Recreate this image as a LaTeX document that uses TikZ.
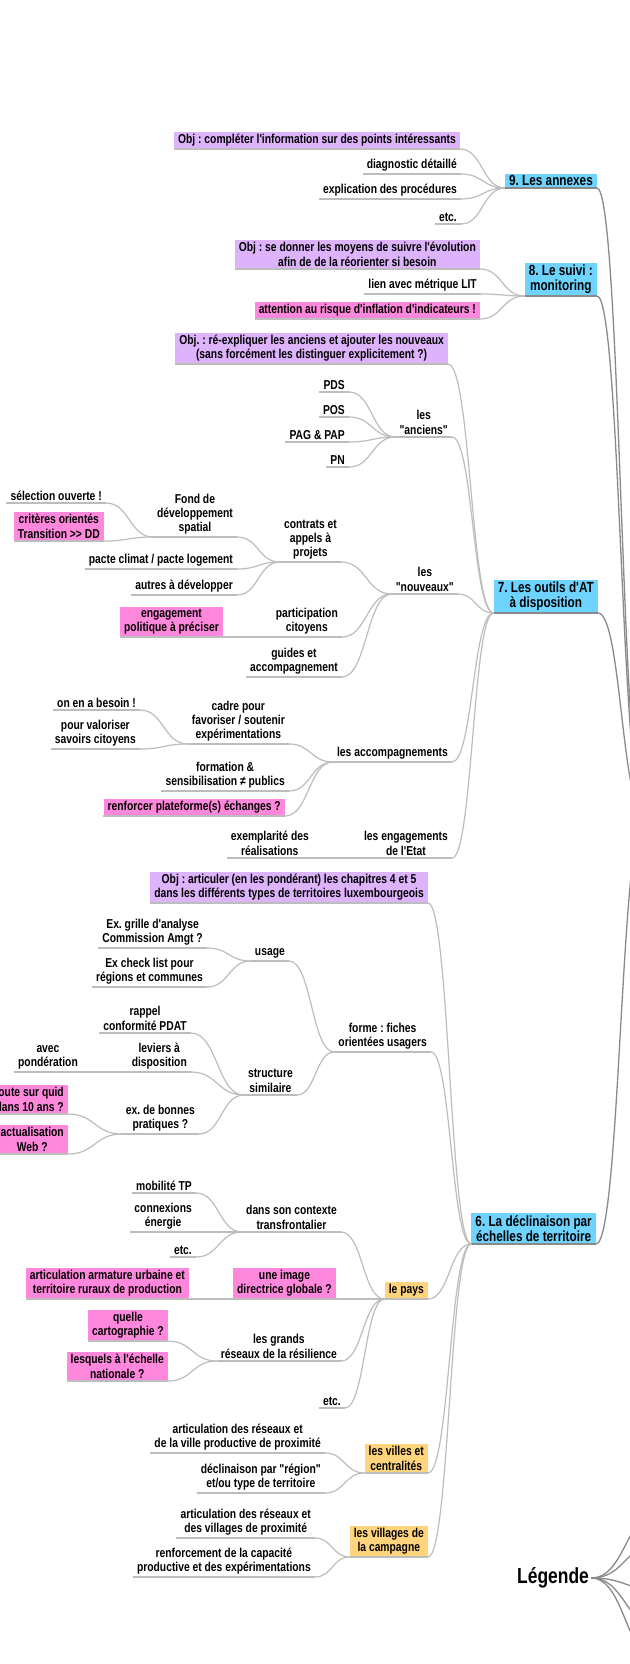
\documentclass[tikz,border=0pt]{standalone}
\usepackage{fontspec}
\newfontfamily\mmfont{Liberation Sans}[FakeStretch=0.8]
\usetikzlibrary{calc}
\frenchspacing
\definecolor{cpurple}{HTML}{DDB3FB}
\definecolor{cpink}{HTML}{FF88DC}
\definecolor{cblue}{HTML}{6FD3FF}
\definecolor{corange}{HTML}{FFD47C}
\definecolor{clink}{HTML}{BDBDBD}
\definecolor{cmain}{HTML}{8A8A8A}
\begin{document}
\begin{tikzpicture}[x=1pt,y=-1pt,
  mm/.style={anchor=south east, align=center, inner xsep=4pt, inner ysep=2.3pt,
    font=\mmfont\bfseries\fontsize{12.9}{14.4}\selectfont\frenchspacing, text=black},
  pu/.style={mm, fill=cpurple},
  pk/.style={mm, fill=cpink},
  ora/.style={mm, fill=corange},
  bl/.style={mm, fill=cblue, inner ysep=1.8pt, font=\mmfont\bfseries\fontsize{14.7}{15.8}\selectfont},
  link/.style={draw=clink, line width=1.2pt,
    to path={let \p1=(\tikztostart), \p2=(\tikztotarget), \n1={0.5*(\x2-\x1)} in
      .. controls ([xshift=\n1]\tikztostart) and ([xshift=-\n1]\tikztotarget) .. (\tikztotarget)}},
  mainlink/.style={link, draw=cmain, line width=1.3pt},
  uline/.style={draw=clink, line width=1.2pt},
  mainuline/.style={draw=cmain, line width=1.3pt}
]
\fill[white] (0,0) rectangle (629,1664);
\useasboundingbox (0,0) rectangle (629,1664);

% ---------- 9
\node[bl] (n9) at (597,188) {9. Les annexes};
\node[pu] (o9) at (460,149) {Obj : compléter l'information sur des points intéressants};
\node[mm] (d9a) at (461,174) {diagnostic détaillé};
\node[mm] (d9b) at (461,199) {explication des procédures};
\node[mm] (d9c) at (461,224) {etc.};
% ---------- 8
\node[bl] (n8) at (597,296) {8. Le suivi :\\monitoring};
\node[pu] (o8) at (480,269) {Obj : se donner les moyens de suivre l'évolution\\afin de de la réorienter si besoin};
\node[mm] (l8) at (481,294) {lien avec métrique LIT};
\node[pk] (a8) at (480,319) {attention au risque d'inflation d'indicateurs !};
% ---------- 7
\node[bl] (n7) at (598,613) {7. Les outils d'AT\\à disposition};
\node[pu] (o7) at (448,364) {Obj. : ré-expliquer les anciens et ajouter les nouveaux\\(sans forcément les distinguer explicitement ?)};
\node[mm] (anc) at (452,437) {les\\"anciens"};
\node[mm] (pds) at (349,392) {PDS};
\node[mm] (pos) at (349,417) {POS};
\node[mm] (pag) at (349,442) {PAG \& PAP};
\node[mm] (pn) at (349,467) {PN};
\node[mm] (nouv) at (458,594) {les\\"nouveaux"};
\node[mm] (contrats) at (341,562) {contrats et\\appels à\\projets};
\node[mm] (fond) at (237,537) {Fond de\\développement\\spatial};
\node[mm] (sel) at (106,503) {sélection ouverte !};
\node[pk] (crit) at (104,541) {critères orientés\\Transition >> DD};
\node[mm] (pacte) at (237,569) {pacte climat / pacte logement};
\node[mm] (autres) at (237,595) {autres à développer};
\node[mm] (part) at (342,637) {participation\\citoyens};
\node[pk] (eng) at (223,637) {engagement\\politique à préciser};
\node[mm] (guides) at (342,677) {guides et\\accompagnement};
\node[mm] (acc) at (452,762) {les accompagnements};
\node[mm] (cadre) at (289,744) {cadre pour\\favoriser / soutenir\\expérimentations};
\node[mm] (besoin) at (140,710) {on en a besoin !};
\node[mm] (valor) at (140,749) {pour valoriser\\savoirs citoyens};
\node[mm] (form) at (289,791) {formation \&\\sensibilisation ≠ publics};
\node[pk] (renf) at (285,816) {renforcer plateforme(s) échanges ?};
\node[mm] (engE) at (452,858) {les engagements\\de l'Etat};
\node[mm] (exem) at (313,858) {exemplarité des\\réalisations};
% ---------- 6
\node[bl] (n6) at (596,1244) {6. La déclinaison par\\échelles de territoire};
\node[pu] (o6) at (428,903) {Obj : articuler (en les pondérant) les chapitres 4 et 5\\dans les différents types de territoires luxembourgeois};
\node[mm] (forme) at (431,1052) {forme : fiches\\orientées usagers};
\node[mm] (usage) at (289,961) {usage};
\node[mm] (grille) at (207,948) {Ex. grille d'analyse\\Commission Amgt ?};
\node[mm] (check) at (207,987) {Ex check list pour\\régions et communes};
\node[mm] (struct) at (297,1095) {structure\\similaire};
\node[mm] (rappel) at (191,1033) {rappel\\conformité PDAT};
\node[mm] (leviers) at (191,1072) {leviers à\\disposition};
\node[mm] (avec) at (82,1072) {avec\\pondération};
\node[mm] (bonnes) at (199,1134) {ex. de bonnes\\pratiques ?};
\node[pk, align=right] (quid) at (68,1114) {oute sur quid\\dans 10 ans ?};
\node[pk] (actu) at (68,1154) {actualisation\\Web ?};
\node[ora] (pays) at (428,1299) {le pays};
\node[pk] (img) at (336,1299) {une image\\directrice globale ?};
\node[pk] (armat) at (189,1299) {articulation armature urbaine et\\territoire ruraux de production};
\node[mm] (ctx) at (341,1232) {dans son contexte\\transfrontalier};
\node[mm] (mob) at (196,1193) {mobilité TP};
\node[mm] (conn) at (196,1232) {connexions\\énergie};
\node[mm] (etcb) at (196,1257) {etc.};
\node[mm] (res) at (341,1361) {les grands\\réseaux de la résilience};
\node[pk] (carto) at (168,1341) {quelle\\cartographie ?};
\node[pk] (lesq) at (168,1381) {lesquels à l'échelle\\nationale ?};
\node[mm] (etcc) at (345,1408) {etc.};
\node[ora] (villes) at (428,1473) {les villes et\\centralités};
\node[mm] (artv) at (325,1453) {articulation des réseaux et\\de la ville productive de proximité};
\node[mm] (decl) at (325,1493) {déclinaison par "région"\\et/ou type de territoire};
\node[ora] (vill) at (428,1557) {les villages de\\la campagne};
\node[mm] (artvil) at (315,1538) {articulation des réseaux et\\des villages de proximité};
\node[mm] (renfc) at (315,1577) {renforcement de la capacité\\productive et des expérimentations};
% ---------- legend
\node[anchor=center, inner sep=2pt, font=\mmfont\bfseries\fontsize{21.8}{23}\selectfont] (leg) at (553,1578) {Légende};
\coordinate (root) at (645,815);
\coordinate (lg1) at (660,1512);
\coordinate (lg2) at (660,1543);
\coordinate (lg3) at (660,1590);
\coordinate (lg4) at (660,1628);
\coordinate (lg5) at (660,1662);

% ---------- underlines
\foreach \na in {o9,d9a,d9b,d9c,o8,l8,a8,o7,anc,pds,pos,pag,pn,nouv,contrats,fond,sel,crit,pacte,autres,part,eng,guides,acc,cadre,besoin,valor,form,renf,engE,exem,o6,forme,usage,grille,check,struct,rappel,leviers,avec,bonnes,quid,actu,pays,img,armat,ctx,mob,conn,etcb,res,carto,lesq,etcc,villes,artv,decl,vill,artvil,renfc}
  \draw[uline] (\na.south west) -- (\na.south east);
\foreach \na in {n9,n8,n7,n6}
  \draw[mainuline] (\na.south west) -- (\na.south east);

% ---------- connectors
\foreach \ca/\pa in {o9/n9,d9a/n9,d9b/n9,d9c/n9,
  o8/n8,l8/n8,a8/n8,
  o7/n7,anc/n7,nouv/n7,acc/n7,engE/n7,
  pds/anc,pos/anc,pag/anc,pn/anc,
  contrats/nouv,part/nouv,guides/nouv,
  fond/contrats,pacte/contrats,autres/contrats,
  sel/fond,crit/fond,eng/part,
  cadre/acc,form/acc,renf/acc,besoin/cadre,valor/cadre,exem/engE,
  o6/n6,forme/n6,pays/n6,villes/n6,vill/n6,
  usage/forme,struct/forme,grille/usage,check/usage,
  rappel/struct,leviers/struct,bonnes/struct,avec/leviers,quid/bonnes,actu/bonnes,
  ctx/pays,img/pays,res/pays,etcc/pays,mob/ctx,conn/ctx,etcb/ctx,armat/img,
  carto/res,lesq/res,artv/villes,decl/villes,artvil/vill,renfc/vill}
  \draw[link] (\ca.south east) to (\pa.south west);
\foreach \na in {n9,n8,n7,n6}
  \draw[mainlink] (\na.south east) to (root);
\foreach \ga in {lg1,lg2,lg3,lg4,lg5}
  \draw[mainlink] (leg.east) to (\ga);
\end{tikzpicture}
\end{document}
